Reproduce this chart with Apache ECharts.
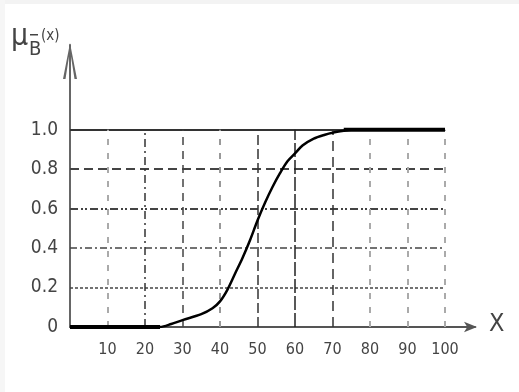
<!DOCTYPE html>
<html>
<head>
<meta charset="utf-8">
<script src="https://cdn.jsdelivr.net/npm/echarts@6/dist/echarts.min.js"></script>
<style>html,body{margin:0;padding:0;background:#fff}#c{width:519px;height:392px}</style>
</head>
<body>
<div id="c"></div>
<script>
// ---- data ----
var curveX = [0, 10, 20, 24, 27, 30, 35, 38, 40, 42, 44, 46, 48, 50, 52, 54, 56, 58, 60, 62, 65, 68, 70, 73, 75, 80, 90, 100];
var curveY = [0, 0, 0, 0, 0.015, 0.035, 0.065, 0.095, 0.13, 0.19, 0.27, 0.35, 0.44, 0.54, 0.63, 0.71, 0.78, 0.84, 0.88, 0.92, 0.955, 0.975, 0.985, 0.995, 1.0, 1.0, 1.0, 1.0];
var lowFlatX = [0, 24];
var lowFlatY = [0, 0];
var highFlatX = [73, 100];
var highFlatY = [1.0, 1.0];
var xTicks = [10, 20, 30, 40, 50, 60, 70, 80, 90, 100];
var yTicks = [0.2, 0.4, 0.6, 0.8, 1.0];
var xLabelName = 'X';

function pairs(xs, ys){ return xs.map(function(x,i){ return [x, ys[i]]; }); }

var hStyles = {
  '0.2': {type:[3,2], color:'#444', width:1.5},
  '0.4': {type:[7,3,2,3], color:'#444', width:1.5},
  '0.6': {type:[8,3,2,2,2,3], color:'#444', width:2},
  '0.8': {type:[9,5], color:'#444', width:2},
  '1': {type:'solid', color:'#333', width:2}
};
var vStyles = {
  10:{type:[6,8], color:'#aaa', width:2},
  20:{type:[8,4,2,4], color:'#333', width:1.5},
  30:{type:[8,6], color:'#444', width:1.5},
  40:{type:[6,8], color:'#999', width:2},
  50:{type:[10,4], color:'#333', width:1.5},
  60:{type:[14,3], color:'#222', width:1.5},
  70:{type:[10,6], color:'#333', width:1.5},
  80:{type:[6,8], color:'#aaa', width:2},
  90:{type:[6,8], color:'#aaa', width:2},
  100:{type:[6,8], color:'#aaa', width:2}
};
var markData = [];
yTicks.forEach(function(v){
  markData.push([{coord:[0, v], lineStyle:hStyles[String(v)]}, {coord:[100, v]}]);
});
xTicks.forEach(function(v){
  markData.push([{coord:[v, 0], lineStyle:vStyles[v]}, {coord:[v, 1.0]}]);
});

var FONT = '"DejaVu Sans", sans-serif';
var STRETCH = 'condensed';
var chart = echarts.init(document.getElementById('c'), null, {renderer:'canvas'});
chart.setOption({
  animation:false,
  backgroundColor:'#fff',
  grid:{left:70, right:44, top:45, bottom:65},
  xAxis:{
    type:'value', min:0, max:108, interval:10,
    axisLine:{show:true, lineStyle:{color:'#555', width:2}, symbol:['none','arrow'], symbolSize:[8,13], symbolOffset:[0,2]},
    axisTick:{show:false},
    splitLine:{show:false},
    axisLabel:{
      fontFamily:FONT, fontStyle:STRETCH, fontSize:16, color:'#444', margin:15, showMaxLabel:false,
      formatter:function(v){ return (v>=10 && v<=100) ? String(v) : ''; }
    }
  },
  yAxis:{
    type:'value', min:0, max:1.43, interval:0.2,
    axisLine:{show:true, lineStyle:{color:'#666', width:2}, symbol:['none','path://M0,36 L7,0 L14,36 L11.5,36 L7,7 L2.5,36 Z'], symbolSize:[15,36], symbolOffset:[0,-16]},
    axisTick:{show:false},
    splitLine:{show:false},
    axisLabel:{
      fontFamily:FONT, fontStyle:STRETCH, fontSize:19, color:'#444', margin:12, showMaxLabel:false,
      formatter:function(v){ if (v>1.01) return ''; return v===0 ? '0' : v.toFixed(1); }
    }
  },
  series:[
    {
      type:'line', data:[], silent:true,
      markLine:{silent:true, symbol:['none','none'], label:{show:false}, data:markData, animation:false}
    },
    {
      type:'line', data:pairs(curveX, curveY), showSymbol:false, smooth:0.3,
      lineStyle:{color:'#000', width:2.5}, z:5
    },
    {
      type:'line', data:pairs(lowFlatX, lowFlatY), showSymbol:false,
      lineStyle:{color:'#000', width:4}, z:6
    },
    {
      type:'line', data:pairs(highFlatX, highFlatY), showSymbol:false,
      lineStyle:{color:'#000', width:4}, z:6
    }
  ],
  graphic:[
    {type:'rect', shape:{x:0,y:0,width:519,height:4}, style:{fill:'#f3f3f3'}, silent:true},
    {type:'rect', shape:{x:0,y:0,width:5,height:392}, style:{fill:'#f6f6f6'}, silent:true},
    {type:'text', left:11, top:22, style:{text:'μ', font:STRETCH + ' 30px ' + FONT, fill:'#444'}},
    {type:'text', left:29, top:40, style:{text:'B', font:STRETCH + ' 20px ' + FONT, fill:'#444'}},
    {type:'rect', shape:{x:30,y:34,width:8,height:1.5}, style:{fill:'#444'}},
    {type:'text', left:41, top:29, style:{text:'(x)', font:STRETCH + ' 15px ' + FONT, fill:'#444'}},
    {type:'text', left:489, top:312, style:{text:xLabelName, font:STRETCH + ' 25px ' + FONT, fill:'#444'}}
  ]
});
</script>
</body>
</html>
